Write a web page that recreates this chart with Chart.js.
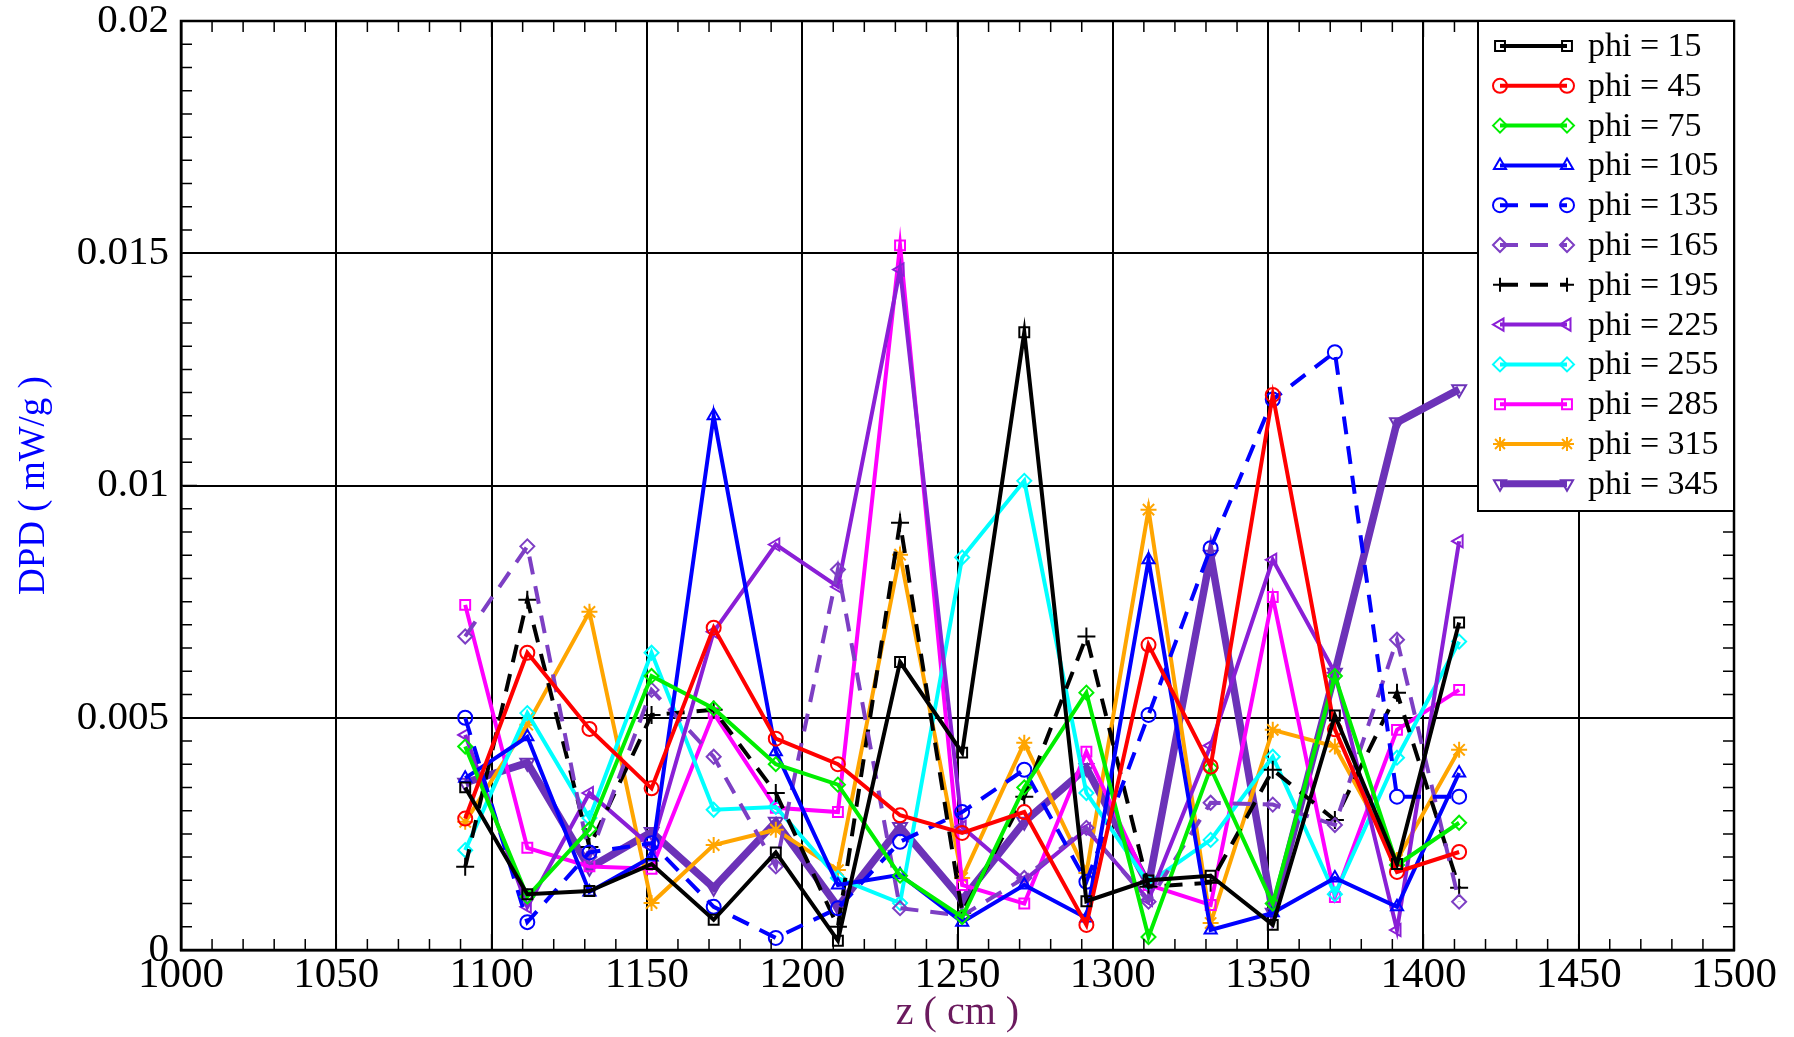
<!DOCTYPE html>
<html>
<head>
<meta charset="utf-8">
<script src="https://cdn.jsdelivr.net/npm/chart.js@4.4.1/dist/chart.umd.min.js"></script>
<style>
  html, body { margin: 0; padding: 0; background: #fff; }
  #wrap { width: 1794px; height: 1037px; }
</style>
</head>
<body>
<div id="wrap"><canvas id="dpdChart" width="1794" height="1037"></canvas></div>
<script>
// z positions (cm)
const zValues = [1091.5, 1111.5, 1131.5, 1151.5, 1171.5, 1191.5, 1211.5, 1231.5, 1251.5,
                 1271.5, 1291.5, 1311.5, 1331.5, 1351.5, 1371.5, 1391.5, 1411.5];

// DPD values (mW/g) per phi
const phi15  = [0.0035, 0.0012, 0.00127, 0.00185, 0.00065, 0.0021, 0.0002, 0.0062, 0.00425, 0.0133, 0.00105, 0.0015, 0.0016, 0.00054, 0.00505, 0.00185, 0.00705];
const phi45  = [0.00283, 0.0064, 0.00476, 0.00348, 0.00694, 0.00455, 0.004, 0.0029, 0.00252, 0.00297, 0.00054, 0.00657, 0.00395, 0.01195, 0.00475, 0.00168, 0.00211];
const phi75  = [0.00438, 0.00115, 0.0026, 0.0059, 0.0052, 0.004, 0.00356, 0.0016, 0.00071, 0.0035, 0.00554, 0.00028, 0.00392, 0.001, 0.0059, 0.00183, 0.00274];
const phi105 = [0.0037, 0.00459, 0.00125, 0.002, 0.0115, 0.00427, 0.0014, 0.00162, 0.0006, 0.0014, 0.00069, 0.0084, 0.00043, 0.0008, 0.00155, 0.00093, 0.00381];
const phi135 = [0.005, 0.0006, 0.0021, 0.0023, 0.00093, 0.00026, 0.0009, 0.00233, 0.00297, 0.00388, 0.00147, 0.00506, 0.00865, 0.01185, 0.01287, 0.0033, 0.0033];
const phi165 = [0.00675, 0.00869, 0.002, 0.0056, 0.00416, 0.0018, 0.00819, 0.0009, 0.00074, 0.00155, 0.00263, 0.00104, 0.00317, 0.00313, 0.00269, 0.00668, 0.00104];
const phi195 = [0.00179, 0.00754, 0.00222, 0.00506, 0.00517, 0.00338, 0.0005, 0.0092, 0.0008, 0.0033, 0.00675, 0.00136, 0.00145, 0.00388, 0.0028, 0.00554, 0.00134];
const phi225 = [0.00463, 0.00093, 0.00338, 0.00222, 0.00685, 0.00873, 0.00782, 0.01465, 0.00265, 0.0015, 0.0026, 0.00108, 0.0044, 0.0084, 0.00597, 0.00043, 0.0088];
const phi255 = [0.00215, 0.0051, 0.00284, 0.0064, 0.00302, 0.00308, 0.00155, 0.00101, 0.00845, 0.0101, 0.00338, 0.00144, 0.00237, 0.00416, 0.0012, 0.00414, 0.00664];
const phi285 = [0.00743, 0.0022, 0.0018, 0.00175, 0.0051, 0.00306, 0.00297, 0.01517, 0.0014, 0.001, 0.00427, 0.0014, 0.00097, 0.0076, 0.00114, 0.00474, 0.0056];
const phi315 = [0.00276, 0.00485, 0.00728, 0.00101, 0.00226, 0.00259, 0.00172, 0.00851, 0.00155, 0.00446, 0.00166, 0.00948, 0.00058, 0.00474, 0.00438, 0.00194, 0.00431];
const phi345 = [0.0036, 0.00403, 0.00177, 0.00254, 0.00134, 0.00276, 0.00093, 0.00265, 0.00108, 0.00276, 0.00392, 0.0014, 0.00851, 0.0008, 0.00597, 0.01136, 0.01207];

const xTicks = [1000, 1050, 1100, 1150, 1200, 1250, 1300, 1350, 1400, 1450, 1500];
const yTicks = [0, 0.005, 0.01, 0.015, 0.02];

const FONT = "'Liberation Serif', 'DejaVu Serif', serif";

function series(label, values, color, style, opts) {
    return Object.assign({
        label: label,
        data: values.map((v, i) => ({ x: zValues[i], y: v })),
        borderColor: color,
        backgroundColor: 'transparent',
        pointBorderColor: color,
        pointBackgroundColor: 'transparent',
        pointStyle: style,
        pointRadius: 7,
        pointBorderWidth: 2,
        borderWidth: 4,
        tension: 0
    }, opts || {});
}

const datasets = [
    series('phi = 15', phi15, '#000000', 'rect'),
    series('phi = 45', phi45, '#ff0000', 'circle'),
    series('phi = 75', phi75, '#00ee00', 'rectRot'),
    series('phi = 105', phi105, '#0000ff', 'triangle'),
    series('phi = 135', phi135, '#0000ff', 'circle', { borderDash: [18, 12] }),
    series('phi = 165', phi165, '#7d3fc4', 'rectRot', { borderDash: [18, 12] }),
    series('phi = 195', phi195, '#000000', 'cross', { borderDash: [18, 12], pointRadius: 9 }),
    series('phi = 225', phi225, '#8a1fd6', 'triangle', { pointRotation: -90 }),
    series('phi = 255', phi255, '#00ffff', 'rectRot'),
    series('phi = 285', phi285, '#ff00ff', 'rect'),
    series('phi = 315', phi315, '#ffa500', 'star', { pointRadius: 8 }),
    series('phi = 345', phi345, '#6c32b8', 'triangle', { pointRotation: 180, borderWidth: 7.5, pointRadius: 8 })
];

// frame, minor ticks and legend box drawn on top
const framePlugin = {
    id: 'frame',
    afterDatasetsDraw(chart) {
        const { ctx, chartArea: a, scales: { x, y } } = chart;
        ctx.save();
        ctx.strokeStyle = '#000';
        ctx.lineWidth = 1.5;
        ctx.beginPath();
        for (let v = x.min; v <= x.max + 1e-9; v += 10) {
            const px = x.getPixelForValue(v);
            const len = (v % 50 === 0) ? 16 : 11;
            ctx.moveTo(px, a.bottom); ctx.lineTo(px, a.bottom - len);
            ctx.moveTo(px, a.top); ctx.lineTo(px, a.top + len);
        }
        for (let i = 0; i <= 40; i++) {
            const v = i * 0.0005;
            const py = y.getPixelForValue(v);
            const len = (i % 10 === 0) ? 16 : 11;
            ctx.moveTo(a.left, py); ctx.lineTo(a.left + len, py);
            ctx.moveTo(a.right, py); ctx.lineTo(a.right - len, py);
        }
        ctx.stroke();
        ctx.lineWidth = 2.5;
        ctx.strokeRect(a.left, a.top, a.right - a.left, a.bottom - a.top);

        // legend box
        const bx = 1478, by = a.top, bw = a.right - bx, bh = 490;
        ctx.fillStyle = '#fff';
        ctx.fillRect(bx, by, bw, bh);
        ctx.lineWidth = 2;
        ctx.strokeRect(bx, by, bw, bh);
        ctx.font = '34px ' + FONT;
        ctx.textBaseline = 'middle';
        chart.data.datasets.forEach((ds, i) => {
            const cy = by + 25 + i * 39.8;
            const x1 = 1500, x2 = 1567;
            ctx.strokeStyle = ds.borderColor;
            ctx.lineWidth = Math.min(ds.borderWidth, 7);
            ctx.setLineDash(ds.borderDash || []);
            ctx.beginPath();
            ctx.moveTo(x1, cy); ctx.lineTo(x2, cy);
            ctx.stroke();
            ctx.setLineDash([]);
            ctx.lineWidth = 2;
            ctx.fillStyle = 'transparent';
            const opt = { pointStyle: ds.pointStyle, rotation: ds.pointRotation || 0,
                          radius: 7, borderWidth: 2 };
            Chart.helpers.drawPoint(ctx, opt, x1, cy);
            Chart.helpers.drawPoint(ctx, opt, x2, cy);
            ctx.fillStyle = '#000';
            ctx.fillText(ds.label, 1588, cy + 1);
        });
        ctx.restore();
    }
};

new Chart(document.getElementById('dpdChart').getContext('2d'), {
    type: 'line',
    data: { datasets: datasets },
    options: {
        responsive: false,
        animation: false,
        layout: { padding: { left: 0, right: 60, top: 21, bottom: 0 } },
        plugins: {
            legend: { display: false },
            tooltip: { enabled: false }
        },
        scales: {
            x: {
                type: 'linear',
                min: 1000,
                max: 1500,
                afterBuildTicks: (s) => { s.ticks = xTicks.map(v => ({ value: v })); },
                afterFit: (s) => { s.height = 87; s.paddingLeft = 0; s.paddingRight = 0; },
                ticks: {
                    color: '#000',
                    font: { family: FONT, size: 43 },
                    padding: 0,
                    maxRotation: 0,
                    callback: (v) => String(v)
                },
                grid: { color: '#000', lineWidth: 2, drawTicks: false },
                border: { color: '#000', width: 2.5 },
                title: {
                    display: true,
                    text: 'z ( cm )',
                    color: '#6b1a5e',
                    font: { family: FONT, size: 40 },
                    padding: { top: 0, bottom: 0 }
                }
            },
            y: {
                min: 0,
                max: 0.02,
                afterBuildTicks: (s) => { s.ticks = yTicks.map(v => ({ value: v })); },
                afterFit: (s) => { s.width = 181; s.paddingTop = 0; s.paddingBottom = 0; },
                ticks: {
                    color: '#000',
                    font: { family: FONT, size: 41 },
                    padding: 12,
                    callback: (v) => String(Number(v.toFixed(4)))
                },
                grid: { color: '#000', lineWidth: 2, drawTicks: false },
                border: { color: '#000', width: 2.5 },
                title: {
                    display: true,
                    text: 'DPD ( mW/g )',
                    color: '#0000ff',
                    font: { family: FONT, size: 37 },
                    padding: { top: 12, bottom: 0 }
                }
            }
        }
    },
    plugins: [framePlugin]
});
</script>
</body>
</html>
